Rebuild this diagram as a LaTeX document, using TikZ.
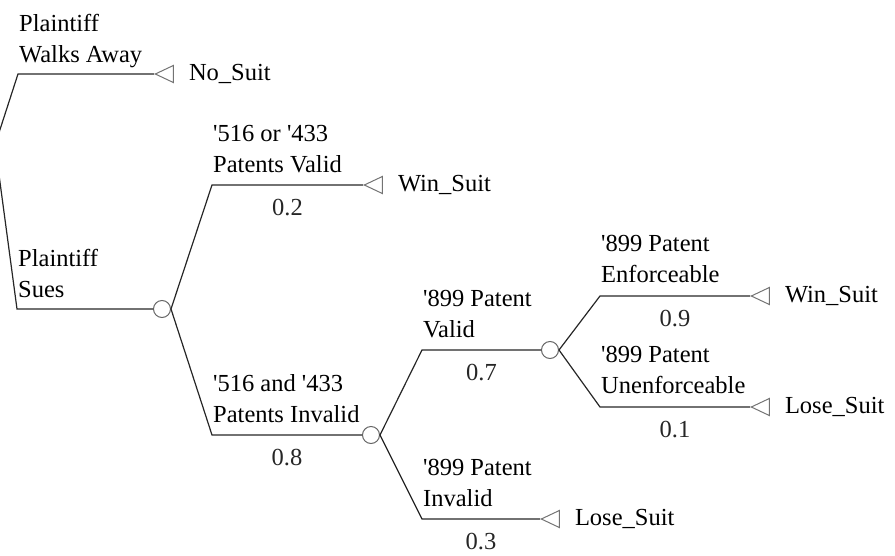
\documentclass[tikz,border=0pt]{standalone}
\usepackage{fontspec}
\setmainfont{Liberation Serif}
\usetikzlibrary{shapes.geometric, positioning}

\newcommand{\ap}{\textquotesingle}

\begin{document}
\begin{tikzpicture}[
  x=1pt, y=-1pt,
  br/.style={line width=1.2pt, black!85},
  chance/.style={circle, draw=black!60, line width=1pt, minimum size=17pt,
                 inner sep=0pt},
  term/.style={isosceles triangle, isosceles triangle stretches,
               shape border rotate=180, draw=black!55, line width=1pt,
               minimum width=17pt, minimum height=18pt, inner sep=0pt,
               anchor=apex},
  lbl/.style={anchor=south west, align=left, inner sep=0pt, text depth=0pt,
              font=\fontsize{24.5}{31}\selectfont},
  prob/.style={below=14pt, inner sep=0pt, font=\fontsize{24.5}{31}\selectfont},
  outc/.style={inner sep=0pt, font=\fontsize{24.5}{31}\selectfont}
]
\useasboundingbox (0,0) rectangle (895,555);
\clip (0,0) rectangle (895,555);

% decision (root, cut off at the left edge)
\coordinate (root) at (-5,145);
\coordinate (walk) at (18,74);
\coordinate (sue)  at (17,309);
\node[term] (nosuit) at (154,74) {};
\node[chance] (c1) at (162,309) {};

% first chance node
\coordinate (valid)   at (212,185);
\coordinate (invalid) at (212,435);
\node[term] (win1) at (363,185) {};
\node[chance] (c2) at (371,435) {};

% '899 validity
\coordinate (pval) at (422,350);
\coordinate (pinv) at (422,519);
\node[chance] (c3) at (550,350) {};
\node[term] (lose1) at (540,519) {};

% enforceability
\coordinate (enf)   at (600,296);
\coordinate (unenf) at (600,407);
\node[term] (win2)  at (750,296) {};
\node[term] (lose2) at (750,407) {};

% branch labels
\node[lbl] (lwalk)  at (19,63)   {Plaintiff\\Walks Away};
\node[lbl] (lsue)   at (18,298)  {Plaintiff\\Sues};
\node[lbl] (lvalid) at (213,173) {\ap516 or \ap433\\Patents Valid};
\node[lbl] (linval) at (213,423) {\ap516 and \ap433\\Patents Invalid};
\node[lbl] (lpval)  at (423,338) {\ap899 Patent\\Valid};
\node[lbl] (lpinv)  at (423,507) {\ap899 Patent\\Invalid};
\node[lbl] (lenf)   at (601,283) {\ap899 Patent\\Enforceable};
\node[lbl] (lunenf) at (601,394) {\ap899 Patent\\Unenforceable};

% outcomes
\node[outc, right=15pt of nosuit] (onosuit) {No\_Suit};
\node[outc, right=15pt of win1]   (owin1)   {Win\_Suit};
\node[outc, right=15pt of lose1]  (olose1)  {Lose\_Suit};
\node[outc, right=15pt of win2]   (owin2)   {Win\_Suit};
\node[outc, right=15pt of lose2]  (olose2)  {Lose\_Suit};

% branches
\draw[br] (root) -- (walk) -- (nosuit.apex);
\draw[br] (root) -- (sue) -- (c1.west);
\draw[br] (c1.east) -- (valid) -- node[prob] {0.2} (win1.apex);
\draw[br] (c1.east) -- (invalid) -- node[prob] {0.8} (c2.west);
\draw[br] (c2.east) -- (pval) -- node[prob] {0.7} (c3.west);
\draw[br] (c2.east) -- (pinv) -- node[prob] {0.3} (lose1.apex);
\draw[br] (c3.east) -- (enf) -- node[prob] {0.9} (win2.apex);
\draw[br] (c3.east) -- (unenf) -- node[prob] {0.1} (lose2.apex);
\end{tikzpicture}
\end{document}
